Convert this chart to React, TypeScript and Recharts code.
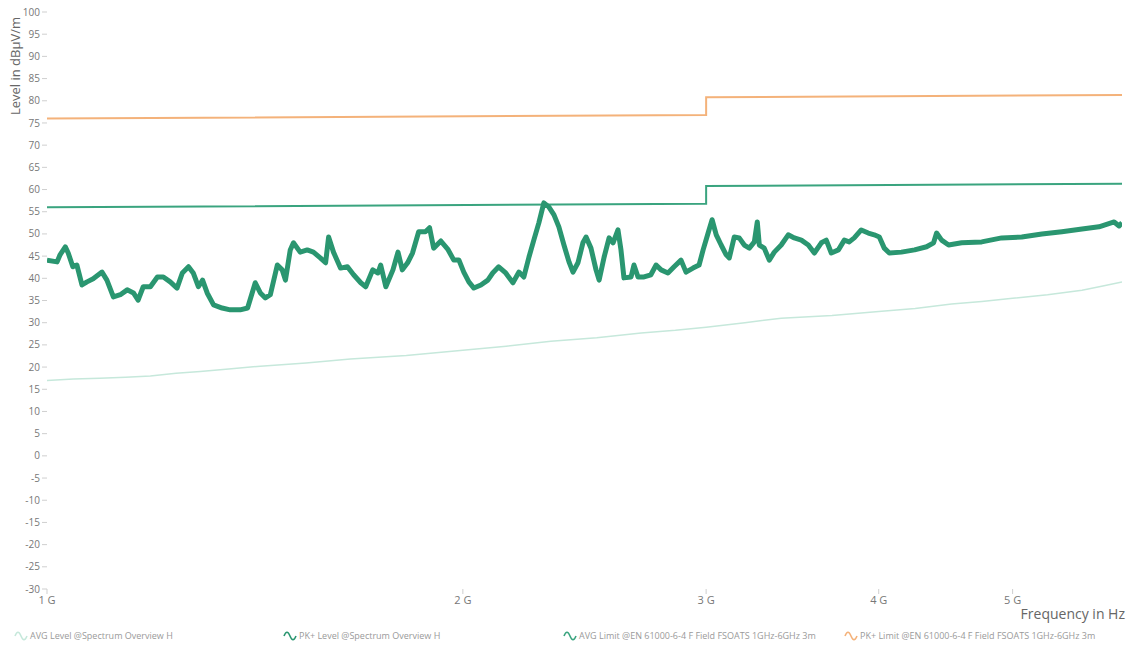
import { LineChart, Line, XAxis, YAxis } from "recharts";

// frequency in GHz, level in dBµV/m
const pkFreq = [
  1.0, 1.017, 1.022, 1.031, 1.036, 1.044, 1.051, 1.06, 1.069, 1.08, 1.096, 1.105, 1.117, 1.13, 1.143,
  1.155, 1.164, 1.174, 1.188, 1.202, 1.214, 1.228, 1.242, 1.253, 1.266, 1.276, 1.287, 1.296, 1.306,
  1.32, 1.339, 1.357, 1.38, 1.397, 1.415, 1.427, 1.439, 1.451, 1.468, 1.48, 1.488, 1.5, 1.508, 1.525,
  1.543, 1.559, 1.577, 1.591, 1.599, 1.612, 1.631, 1.65, 1.667, 1.687, 1.701, 1.721, 1.736, 1.744,
  1.759, 1.78, 1.795, 1.808, 1.824, 1.839, 1.858, 1.879, 1.892, 1.905, 1.928, 1.95, 1.97, 1.987,
  2.003, 2.02, 2.037, 2.061, 2.085, 2.102, 2.123, 2.148, 2.174, 2.196, 2.214, 2.233, 2.251, 2.27,
  2.289, 2.308, 2.328, 2.347, 2.367, 2.387, 2.403, 2.423, 2.443, 2.456, 2.476, 2.497, 2.51, 2.531,
  2.552, 2.569, 2.59, 2.603, 2.616, 2.647, 2.66, 2.678, 2.705, 2.736, 2.76, 2.783, 2.815, 2.844,
  2.877, 2.901, 2.935, 2.965, 2.985, 3.01, 3.03, 3.051, 3.076, 3.102, 3.118, 3.144, 3.17, 3.197,
  3.224, 3.251, 3.267, 3.278, 3.305, 3.333, 3.361, 3.4, 3.44, 3.475, 3.516, 3.557, 3.593, 3.635,
  3.665, 3.696, 3.74, 3.777, 3.808, 3.84, 3.885, 3.931, 3.97, 4.004, 4.037, 4.071, 4.154, 4.246,
  4.332, 4.383, 4.405, 4.442, 4.494, 4.593, 4.749, 4.91, 5.077, 5.25, 5.428, 5.613, 5.774, 5.922,
  5.971, 6.0,
];
const pkLevel = [
  44.1, 43.7, 45.3, 47.1, 45.7, 42.6, 43.0, 38.5, 39.2, 39.9, 41.4, 39.6, 35.8, 36.3, 37.4,
  36.7, 35.1, 38.1, 38.1, 40.3, 40.3, 39.2, 37.8, 41.2, 42.6, 41.2, 38.1, 39.6, 36.7,
  34.0, 33.3, 32.9, 32.9, 33.3, 39.0, 36.7, 35.6, 36.3, 43.0, 41.9, 39.6, 46.4, 48.0, 45.9,
  46.4, 45.9, 44.6, 43.5, 49.3, 45.9, 42.3, 42.6, 40.8, 39.0, 38.1, 41.9, 41.2, 43.0,
  38.1, 41.9, 45.9, 41.9, 43.5, 45.7, 50.5, 50.5, 51.4, 46.8, 48.4, 46.6, 44.1, 44.1,
  41.4, 39.2, 37.8, 38.5, 39.6, 41.2, 42.6, 41.2, 39.0, 41.4, 40.3, 44.8, 48.6, 52.5,
  57.0, 56.1, 54.3, 51.6, 47.5, 43.7, 41.4, 43.5, 48.0, 49.3, 46.8, 41.9, 39.6, 44.8,
  49.1, 48.0, 50.9, 46.4, 40.1, 40.3, 43.0, 40.3, 40.3, 40.8, 43.0, 41.9, 41.2, 42.6,
  44.1, 41.4, 42.3, 43.0, 46.4, 50.2, 53.2, 49.8, 47.5, 45.3, 44.6, 49.3, 49.1, 47.5,
  46.8, 48.2, 52.7, 47.5, 46.8, 44.1, 45.9, 47.5, 49.8, 49.1, 48.6, 47.5, 45.7, 48.0,
  48.6, 45.7, 46.4, 48.6, 48.2, 49.1, 50.9, 50.2, 49.8, 49.3, 46.8, 45.7, 45.9, 46.4,
  47.1, 48.0, 50.2, 48.6, 47.5, 48.0, 48.2, 49.1, 49.3, 50.0, 50.5, 51.1, 51.6, 52.7,
  51.8, 52.5,
];

const avgFreq = [
  1.0, 1.045, 1.092, 1.14, 1.188, 1.24, 1.291, 1.36, 1.427, 1.54, 1.658, 1.82, 2.0, 2.15, 2.316,
  2.5, 2.692, 2.85, 3.0, 3.2, 3.4, 3.7, 4.0, 4.25, 4.516, 4.75, 5.0, 5.3, 5.613, 5.8, 6.0,
];
const avgLevel = [
  17.0, 17.3, 17.5, 17.7, 18.0, 18.6, 19.0, 19.6, 20.2, 20.9, 21.8, 22.6, 23.8, 24.7, 25.8,
  26.6, 27.7, 28.3, 29.0, 30.0, 31.0, 31.6, 32.5, 33.2, 34.2, 34.8, 35.5, 36.3, 37.3, 38.2, 39.2,
];

const limitFreq = [1, 3, 3, 6];
const avgLimit = [56, 56.8, 60.8, 61.3];
const pkLimit = [76, 76.8, 80.8, 81.3];

const xTicks = [1, 2, 3, 4, 5];
const yTicks = [
  -30, -25, -20, -15, -10, -5, 0, 5, 10, 15, 20, 25, 30, 35, 40, 45, 50, 55, 60, 65, 70, 75, 80,
  85, 90, 95, 100,
];

const legendNames = [
  "AVG Level @Spectrum Overview H",
  "PK+ Level @Spectrum Overview H",
  "AVG Limit @EN 61000-6-4 F Field FSOATS 1GHz-6GHz 3m",
  "PK+ Limit @EN 61000-6-4 F Field FSOATS 1GHz-6GHz 3m",
];
const legendColors = ["#c6e8db", "#2a9670", "#3aa47f", "#f4b27a"];
const legendX = [14, 283, 563, 844];

const zip = (fs: number[], vs: number[]) => fs.map((f, i) => ({ f, v: vs[i] }));

const pkData = zip(pkFreq, pkLevel);
const avgData = zip(avgFreq, avgLevel);
const avgLimitData = zip(limitFreq, avgLimit);
const pkLimitData = zip(limitFreq, pkLimit);

const FONT = "'Open Sans', 'Noto Sans', sans-serif";

function WaveIcon({ color }: { color: string }) {
  return (
    <svg width={14} height={10} style={{ marginRight: 2, flexShrink: 0 }}>
      <path d="M1 5 C3 0, 5 0, 7 5 S11 10, 13 5" fill="none" stroke={color} strokeWidth={1.6} />
    </svg>
  );
}

export default function App() {
  return (
    <div
      style={{
        position: "fixed",
        left: 0,
        top: 0,
        width: 1127,
        height: 650,
        background: "#fff",
        fontFamily: FONT,
      }}
    >
      <LineChart width={1127} height={650} margin={{ top: 12, right: 5, bottom: 31, left: 0 }}>
        <XAxis
          dataKey="f"
          type="number"
          scale="log"
          domain={[1, 6]}
          allowDataOverflow
          ticks={xTicks}
          tickFormatter={(v: number) => `${v} G`}
          axisLine={false}
          tickLine={{ stroke: "#cfcfcf" }}
          tickSize={5}
          height={30}
          tick={{ fontSize: 11, fill: "#777", fontFamily: FONT }}
        />
        <YAxis
          type="number"
          domain={[-30, 100]}
          ticks={yTicks}
          interval={0}
          axisLine={false}
          tickLine={{ stroke: "#cfcfcf" }}
          tickSize={5}
          width={47}
          tick={{ fontSize: 10, fill: "#777", fontFamily: FONT }}
        />
        <Line
          data={avgData}
          dataKey="v"
          stroke="#c6e8db"
          strokeWidth={1.5}
          dot={false}
          isAnimationActive={false}
        />
        <Line
          data={pkLimitData}
          dataKey="v"
          stroke="#f4b27a"
          strokeWidth={2}
          dot={false}
          isAnimationActive={false}
        />
        <Line
          data={avgLimitData}
          dataKey="v"
          stroke="#3aa47f"
          strokeWidth={2}
          dot={false}
          isAnimationActive={false}
        />
        <Line
          data={pkData}
          dataKey="v"
          stroke="#2a9670"
          strokeWidth={5}
          strokeLinejoin="round"
          dot={false}
          isAnimationActive={false}
        />
      </LineChart>

      <svg
        width={1127}
        height={650}
        style={{ position: "absolute", left: 0, top: 0, pointerEvents: "none" }}
      >
        <text
          transform="translate(20, 66) rotate(-90)"
          textAnchor="middle"
          fontSize={13}
          fill="#666"
          fontFamily={FONT}
        >
          Level in dBµV/m
        </text>
        <text x={1125} y={619} textAnchor="end" fontSize={14} fill="#666" fontFamily={FONT}>
          Frequency in Hz
        </text>
      </svg>

      {legendNames.map((name, i) => (
        <div
          key={name}
          style={{
            position: "absolute",
            left: legendX[i],
            top: 629,
            display: "flex",
            alignItems: "center",
            fontSize: 9,
            color: "#9a9a9a",
            whiteSpace: "nowrap",
          }}
        >
          <WaveIcon color={legendColors[i]} />
          {name}
        </div>
      ))}
    </div>
  );
}
